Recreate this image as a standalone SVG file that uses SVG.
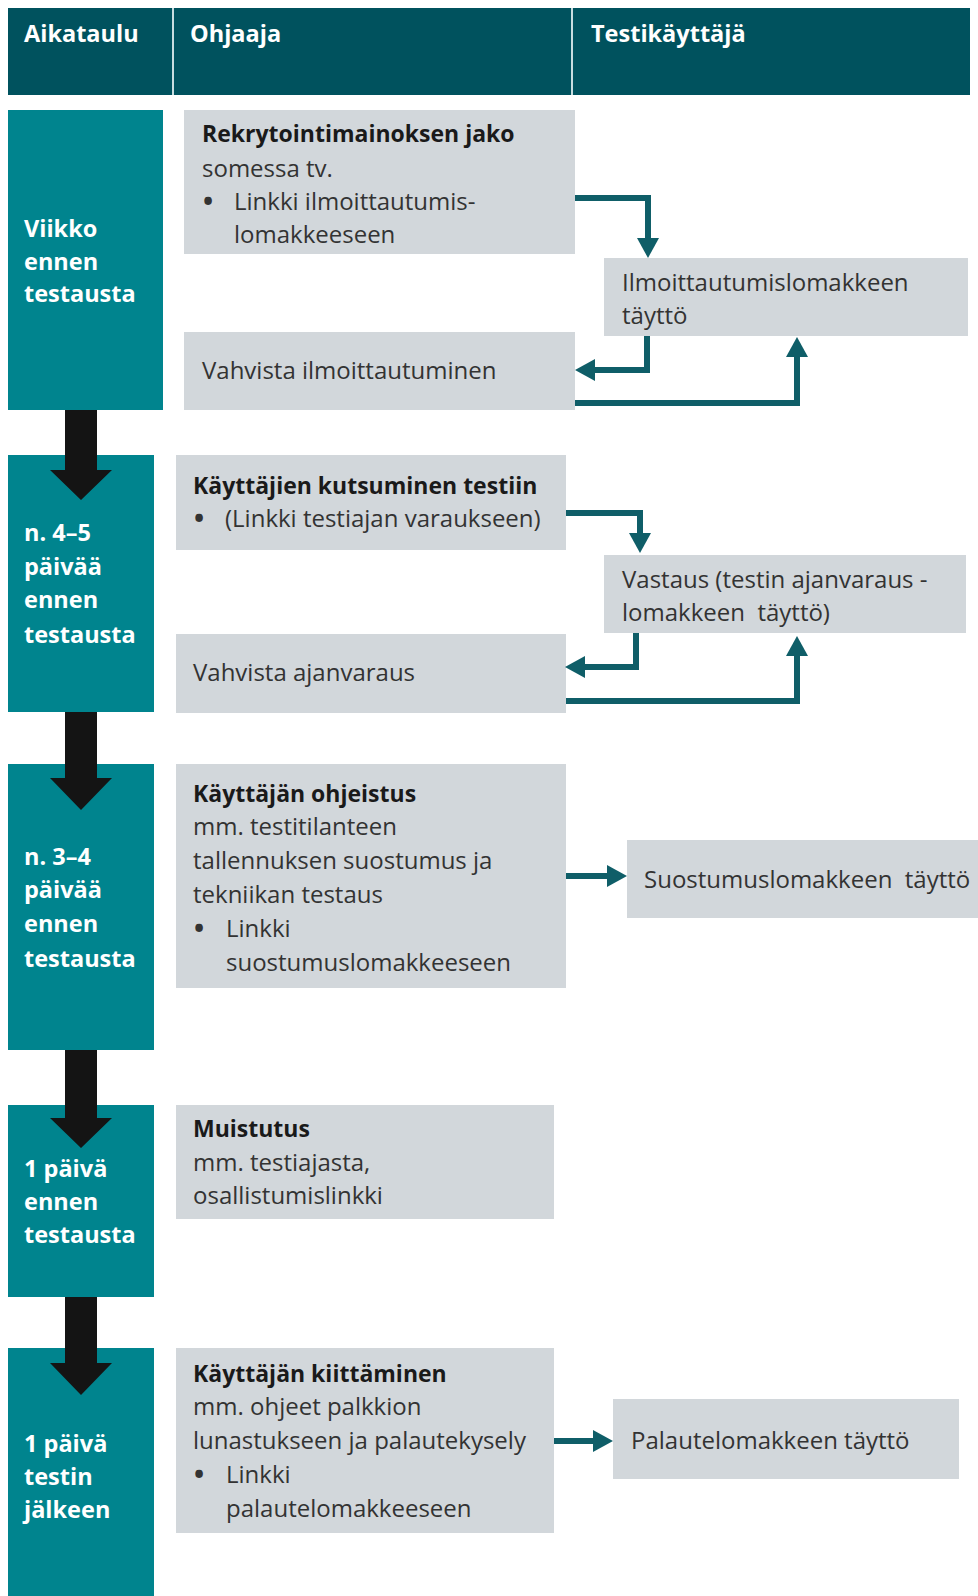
<svg xmlns="http://www.w3.org/2000/svg" width="978" height="1596" viewBox="0 0 978 1596">
<style>
text{font-family:"Open Sans","Noto Sans","Liberation Sans",sans-serif;}
.hd{fill:#00525e;}
.hdt{fill:#ffffff;font-weight:bold;font-size:23.5px;}
.col{fill:#00848e;}
.colt{fill:#ffffff;font-weight:bold;font-size:23.5px;}
.box{fill:#d2d7db;}
.b{fill:#1a1a1a;font-weight:bold;font-size:23px;}
.r{fill:#333333;font-size:24px;}
.bul{fill:#333333;font-size:27px;font-weight:bold;}
.con{fill:none;stroke:#0f5e68;stroke-width:6;}
.blk{fill:#141414;}
</style>
<defs>
<marker id="ah" markerUnits="userSpaceOnUse" markerWidth="20" markerHeight="22" refX="0" refY="11" orient="auto" viewBox="0 0 20 22">
<path d="M0,0 L20,11 L0,22 Z" fill="#0f5e68"/>
</marker>
</defs>

<g id="header">
<rect class="hd" x="8" y="8" width="962" height="87"/>
<line x1="173" y1="8" x2="173" y2="95" stroke="#c9dde0" stroke-width="2"/>
<line x1="572" y1="8" x2="572" y2="95" stroke="#c9dde0" stroke-width="2"/>
<text class="hdt" x="24" y="42">Aikataulu</text>
<text class="hdt" x="190" y="42">Ohjaaja</text>
<text class="hdt" x="591" y="42">Testikäyttäjä</text>
</g>

<g id="time1">
<rect class="col" x="8" y="110" width="155" height="300"/>
<text class="colt" x="24" y="237">Viikko</text>
<text class="colt" x="24" y="270">ennen</text>
<text class="colt" x="24" y="302">testausta</text>
</g>
<g id="time2">
<rect class="col" x="8" y="455" width="146" height="257"/>
<text class="colt" x="24" y="541">n. 4–5</text>
<text class="colt" x="24" y="575">päivää</text>
<text class="colt" x="24" y="608">ennen</text>
<text class="colt" x="24" y="643">testausta</text>
</g>
<g id="time3">
<rect class="col" x="8" y="764" width="146" height="286"/>
<text class="colt" x="24" y="865">n. 3–4</text>
<text class="colt" x="24" y="898">päivää</text>
<text class="colt" x="24" y="932">ennen</text>
<text class="colt" x="24" y="967">testausta</text>
</g>
<g id="time4">
<rect class="col" x="8" y="1105" width="146" height="192"/>
<text class="colt" x="24" y="1177">1 päivä</text>
<text class="colt" x="24" y="1210">ennen</text>
<text class="colt" x="24" y="1243">testausta</text>
</g>
<g id="time5">
<rect class="col" x="8" y="1348" width="146" height="248"/>
<text class="colt" x="24" y="1452">1 päivä</text>
<text class="colt" x="24" y="1485">testin</text>
<text class="colt" x="24" y="1518">jälkeen</text>
</g>

<g id="rekry">
<rect class="box" x="184" y="110" width="391" height="144"/>
<text class="b" x="202" y="142">Rekrytointimainoksen jako</text>
<text class="r" x="202" y="177">somessa tv.</text>
<text class="bul" x="203" y="211">•</text>
<text class="r" x="234" y="210">Linkki ilmoittautumis-</text>
<text class="r" x="234" y="243">lomakkeeseen</text>
</g>
<g id="ilmoittautumislomake">
<rect class="box" x="604" y="258" width="364" height="78"/>
<text class="r" x="622" y="291">Ilmoittautumislomakkeen</text>
<text class="r" x="622" y="324">täyttö</text>
</g>
<g id="vahvista-ilmo">
<rect class="box" x="184" y="332" width="391" height="78"/>
<text class="r" x="202" y="379">Vahvista ilmoittautuminen</text>
</g>

<g id="kutsuminen">
<rect class="box" x="176" y="455" width="390" height="95"/>
<text class="b" x="193" y="494">Käyttäjien kutsuminen testiin</text>
<text class="bul" x="194" y="528">•</text>
<text class="r" x="225" y="527">(Linkki testiajan varaukseen)</text>
</g>
<g id="vastaus">
<rect class="box" x="604" y="555" width="362" height="78"/>
<text class="r" x="622" y="588">Vastaus (testin ajanvaraus -</text>
<text class="r" x="622" y="621" xml:space="preserve">lomakkeen  täyttö)</text>
</g>
<g id="vahvista-ajan">
<rect class="box" x="176" y="634" width="390" height="79"/>
<text class="r" x="193" y="681">Vahvista ajanvaraus</text>
</g>

<g id="ohjeistus">
<rect class="box" x="176" y="764" width="390" height="224"/>
<text class="b" x="193" y="802">Käyttäjän ohjeistus</text>
<text class="r" x="193" y="835">mm. testitilanteen</text>
<text class="r" x="193" y="869">tallennuksen suostumus ja</text>
<text class="r" x="193" y="903">tekniikan testaus</text>
<text class="bul" x="194" y="938">•</text>
<text class="r" x="226" y="937">Linkki</text>
<text class="r" x="226" y="971">suostumuslomakkeeseen</text>
</g>
<g id="suostumus">
<rect class="box" x="627" y="840" width="351" height="78"/>
<text class="r" x="644" y="888" xml:space="preserve">Suostumuslomakkeen  täyttö</text>
</g>

<g id="muistutus">
<rect class="box" x="176" y="1105" width="378" height="114"/>
<text class="b" x="193" y="1137">Muistutus</text>
<text class="r" x="193" y="1171">mm. testiajasta,</text>
<text class="r" x="193" y="1204">osallistumislinkki</text>
</g>

<g id="kiittaminen">
<rect class="box" x="176" y="1348" width="378" height="185"/>
<text class="b" x="193" y="1382">Käyttäjän kiittäminen</text>
<text class="r" x="193" y="1415">mm. ohjeet palkkion</text>
<text class="r" x="193" y="1449">lunastukseen ja palautekysely</text>
<text class="bul" x="194" y="1484">•</text>
<text class="r" x="226" y="1483">Linkki</text>
<text class="r" x="226" y="1517">palautelomakkeeseen</text>
</g>
<g id="palaute">
<rect class="box" x="613" y="1399" width="346" height="80"/>
<text class="r" x="631" y="1449">Palautelomakkeen täyttö</text>
</g>

<g id="timeline-arrows">
<polygon class="blk" points="65,410 97,410 97,470 112,470 81,500 50,470 65,470"/>
<polygon class="blk" points="65,712 97,712 97,778 112,778 81,810 50,778 65,778"/>
<polygon class="blk" points="65,1050 97,1050 97,1118 112,1118 81,1148 50,1118 65,1118"/>
<polygon class="blk" points="65,1297 97,1297 97,1363 112,1363 81,1395 50,1363 65,1363"/>
</g>

<g id="connectors">
<path class="con" d="M575,198 H648 V238" marker-end="url(#ah)"/>
<path class="con" d="M647,336 V370 H595" marker-end="url(#ah)"/>
<path class="con" d="M575,403 H797 V357" marker-end="url(#ah)"/>
<path class="con" d="M566,513 H640 V533" marker-end="url(#ah)"/>
<path class="con" d="M636,633 V667 H585" marker-end="url(#ah)"/>
<path class="con" d="M566,701 H797 V656" marker-end="url(#ah)"/>
<path class="con" d="M566,876 H607" marker-end="url(#ah)"/>
<path class="con" d="M554,1441 H593" marker-end="url(#ah)"/>
</g>
</svg>
